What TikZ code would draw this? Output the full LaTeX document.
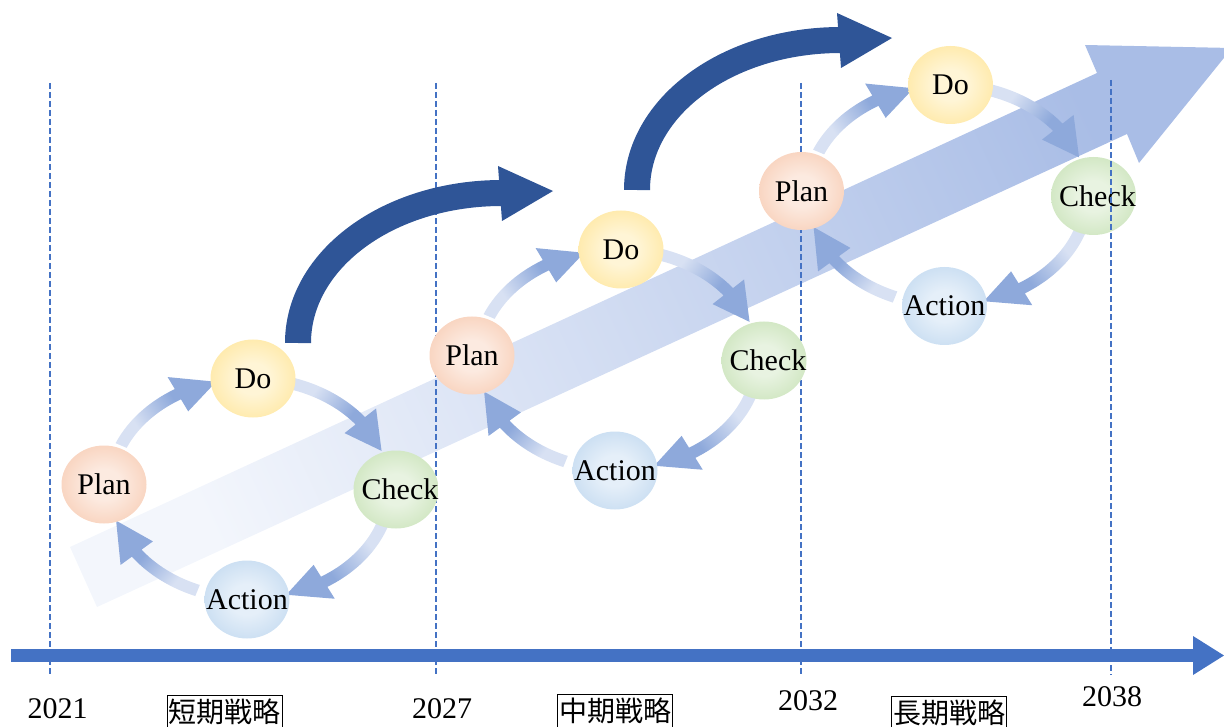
\documentclass[tikz,border=0pt]{standalone}
\usepackage{fontspec}
\setmainfont{Liberation Serif}
\newfontfamily\cjk{Noto Sans CJK JP}
\usetikzlibrary{shapes.geometric}
\definecolor{tl}{HTML}{4472C4}
\definecolor{dk}{HTML}{2F5597}
\definecolor{apale}{HTML}{D8E1F3}
\definecolor{adark}{HTML}{8EA9DB}
\definecolor{bpale}{HTML}{F3F6FC}
\definecolor{bdark}{HTML}{A9BDE6}
\definecolor{planin}{HTML}{FCEAE0}
\definecolor{planout}{HTML}{F4B490}
\definecolor{doin}{HTML}{FFF5D6}
\definecolor{doout}{HTML}{FFDA6E}
\definecolor{chin}{HTML}{E8F3E1}
\definecolor{chout}{HTML}{B0D597}
\definecolor{acin}{HTML}{E5EFF9}
\definecolor{acout}{HTML}{A5C7E8}
\pgfdeclareradialshading{planshade}{\pgfpoint{0bp}{0bp}}{color(0bp)=(planin); color(10bp)=(planin); color(50bp)=(planout)}
\pgfdeclareradialshading{doshade}{\pgfpoint{0bp}{0bp}}{color(0bp)=(doin); color(10bp)=(doin); color(50bp)=(doout)}
\pgfdeclareradialshading{chshade}{\pgfpoint{0bp}{0bp}}{color(0bp)=(chin); color(10bp)=(chin); color(50bp)=(chout)}
\pgfdeclareradialshading{acshade}{\pgfpoint{0bp}{0bp}}{color(0bp)=(acin); color(10bp)=(acin); color(50bp)=(acout)}
\pgfdeclareverticalshading{arrsh}{100bp}{color(0bp)=(adark); color(42bp)=(adark); color(68bp)=(apale); color(100bp)=(apale)}
\tikzset{
  orb/.style={ellipse, shade, minimum width=85pt, minimum height=78pt, inner sep=0pt},
  lbl/.style={font=\fontsize{30}{31}\selectfont, inner sep=0pt},
  vdash/.style={tl, line width=1.2pt, dash pattern=on 6pt off 3pt},
  yr/.style={font=\fontsize{30}{32}\selectfont, inner sep=0pt},
  kbox/.style={draw, line width=0.7pt, inner xsep=1.5pt, inner ysep=0pt, text height=27pt, text depth=12pt, font=\cjk\fontsize{28}{29}\selectfont},
  bigarrow/.style={dk, line width=26pt}
}
\newcommand\pdcaArrow[4]{%
  \shade[shading=arrsh, shading angle=#4]
    plot[domain=#1:#2, samples=24] ({146*cos(\x)},{116*sin(\x)})
    -- plot[domain=#2:#1, samples=24] ({134*cos(\x)},{104*sin(\x)}) -- cycle
    ({160*cos(#2)},{130*sin(#2)}) -- ({140*cos(#3)},{110*sin(#3)})
    -- ({120*cos(#2)},{90*sin(#2)}) -- cycle;
}
\newcommand\pdcaCycle[3]{%
  \begin{scope}[shift={(#1,#2)}]
    \pdcaArrow{203}{239}{256}{123.8}
    \pdcaArrow{287}{322}{340}{53.3}
    \pdcaArrow{17}{58}{75}{307.2}
    \pdcaArrow{112}{144}{163}{229.4}
    \node[orb, shading=planshade] (#3p) at (-146,-4) {};
    \node[lbl] at (#3p) {Plan};
    \node[orb, shading=doshade] (#3d) at (3,-110) {};
    \node[lbl] at (#3d) {Do};
    \node[orb, shading=chshade] (#3c) at (146,1) {};
    \node[lbl] at ([xshift=4pt]#3c.center) {Check};
    \node[orb, shading=acshade] (#3a) at (-3,111) {};
    \node[lbl] at (#3a) {Action};
  \end{scope}
}
\begin{document}
\begin{tikzpicture}[x=1pt, y=-1pt]
\useasboundingbox (0,0) rectangle (1224,727);
\clip (0,0) rectangle (1224,727);
% big translucent trend arrow
\shade[top color=bpale, bottom color=bdark, shading angle=114.8]
  (70,547) -- (1097,73) -- (1085,45) -- (1232,48) -- (1139,163) -- (1127,134) -- (97,607) -- cycle;
% dashed year lines
\draw[vdash] (50,83) -- (50,675);
\draw[vdash] (436,83) -- (436,675);
\draw[vdash] (801,83) -- (801,675);
% dark strategy arrows
\coordinate (ta) at (298,343);
\coordinate (ha) at (502,193);
\draw[bigarrow] (ta) .. controls (298,260) and (388,193) .. (ha);
\fill[dk] (498,166) -- (553,191) -- (502,221) -- cycle;
\begin{scope}[shift={(339,-153)}]
\coordinate (tb) at (298,343);
\coordinate (hb) at (502,193);
\draw[bigarrow] (tb) .. controls (298,260) and (388,193) .. (hb);
\fill[dk] (498,166) -- (553,191) -- (502,221) -- cycle;
\end{scope}
% PDCA cycles
\pdcaCycle{250}{488.5}{a}
\pdcaCycle{618}{359.5}{b}
\pdcaCycle{947.5}{195}{c}
\draw[vdash] (1111,80) -- (1111,675);
% timeline
\fill[tl] (11,649) rectangle (1194,662);
\fill[tl] (1193,636) -- (1224,655.5) -- (1193,675) -- cycle;
% labels
\node[yr] (y1) at (57.5,709) {2021};
\node[yr] (y2) at (442,709) {2027};
\node[yr] (y3) at (808,701) {2032};
\node[yr] (y4) at (1112,697) {2038};
\node[kbox, anchor=north] (k1) at (224.5,695) {短期戦略};
\node[kbox, anchor=north] (k2) at (615,694) {中期戦略};
\node[kbox, anchor=north] (k3) at (949,696) {長期戦略};
\end{tikzpicture}
\end{document}
